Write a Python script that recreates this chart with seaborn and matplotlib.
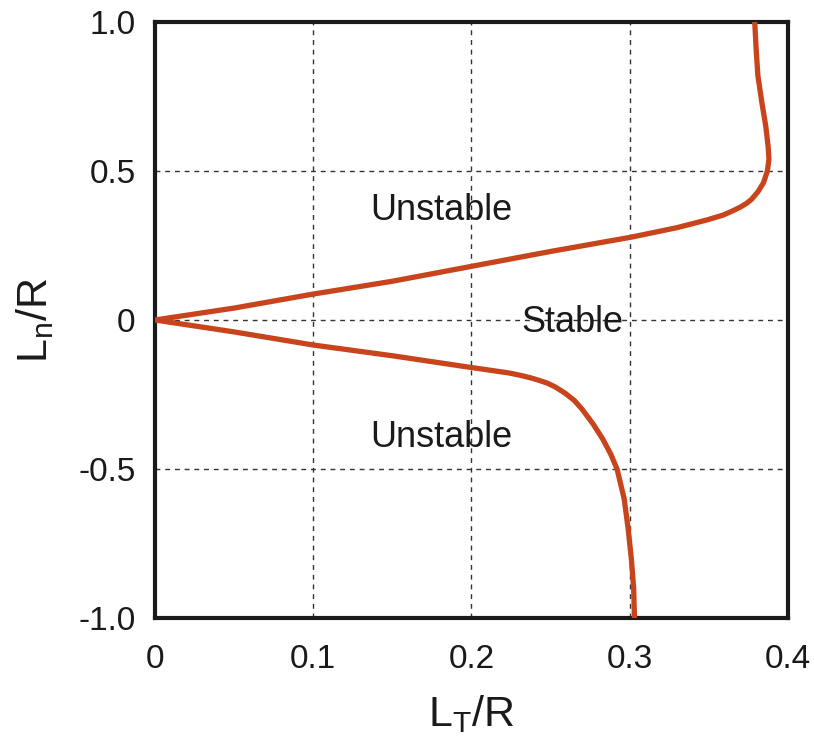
import matplotlib
matplotlib.use("Agg")
import matplotlib.pyplot as plt
import seaborn as sns
import pandas as pd

# Curve data: L_T/R as a function of L_n/R (ordered along the curve)
ln_r = [-1.0, -0.9, -0.8, -0.7, -0.6, -0.5, -0.45, -0.40, -0.35, -0.30,
        -0.27, -0.245, -0.225, -0.212, -0.203, -0.195, -0.187, -0.178,
        -0.158, -0.12, -0.084, -0.04, 0.0, 0.04, 0.087, 0.13, 0.178, 0.23,
        0.278, 0.31, 0.336, 0.352, 0.366, 0.379, 0.392, 0.405, 0.43, 0.46,
        0.50, 0.54, 0.58, 0.65, 0.73, 0.82, 0.9, 1.0]
lt_r = [0.303, 0.3025, 0.301, 0.299, 0.2965, 0.292, 0.288, 0.283, 0.277, 0.270,
        0.265, 0.259, 0.253, 0.248, 0.243, 0.238, 0.232, 0.224,
        0.198, 0.15, 0.10, 0.05, 0.0, 0.05, 0.10, 0.15, 0.198, 0.25,
        0.301, 0.33, 0.349, 0.359, 0.365, 0.370, 0.374, 0.377, 0.381, 0.3845,
        0.387, 0.388, 0.3875, 0.386, 0.3835, 0.381, 0.380, 0.379]

x_ticks = [0, 0.1, 0.2, 0.3, 0.4]
x_ticklabels = ["0", "0.1", "0.2", "0.3", "0.4"]
y_ticks = [-1.0, -0.5, 0, 0.5, 1.0]
y_ticklabels = ["-1.0", "-0.5", "0", "0.5", "1.0"]

region_labels = ["Unstable", "Stable", "Unstable"]
region_x = [0.181, 0.2635, 0.181]
region_y = [0.369, -0.01, -0.393]

sns.set_theme(style="white")
plt.rcParams["font.family"] = ["Liberation Sans", "DejaVu Sans"]
plt.rcParams["mathtext.default"] = "regular"

fig = plt.figure(figsize=(8.14, 7.53), dpi=100)
ax = fig.add_axes([0.1904, 0.1793, 0.7776, 0.7915])

df = pd.DataFrame({"LT": lt_r, "Ln": ln_r})
sns.lineplot(data=df, x="LT", y="Ln", sort=False, estimator=None,
             color="#c8441c", linewidth=3.8, ax=ax, zorder=3)

ax.set_xlim(0, 0.4)
ax.set_ylim(-1.0, 1.0)
ax.set_xticks(x_ticks)
ax.set_xticklabels(x_ticklabels)
ax.set_yticks(y_ticks)
ax.set_yticklabels(y_ticklabels)
ax.tick_params(axis="both", length=0, labelsize=24, colors="#1a1a1a")
ax.tick_params(axis="x", pad=19)
ax.tick_params(axis="y", pad=14)

ax.grid(True, color="#333333", linestyle=(0, (3.5, 3.5)), linewidth=1.0)
for s in ax.spines.values():
    s.set_color("#1a1a1a")
    s.set_linewidth(3.0)
    s.set_visible(True)

for t, xx, yy in zip(region_labels, region_x, region_y):
    ax.text(xx, yy, t, ha="center", va="center", fontsize=26, color="#1a1a1a", zorder=4)

ax.set_xlabel("L$_T$/R", fontsize=31, color="#1a1a1a", labelpad=13)
ax.set_ylabel("L$_n$/R", fontsize=31, color="#1a1a1a", labelpad=16)

fig.savefig("out.png", dpi=100)
